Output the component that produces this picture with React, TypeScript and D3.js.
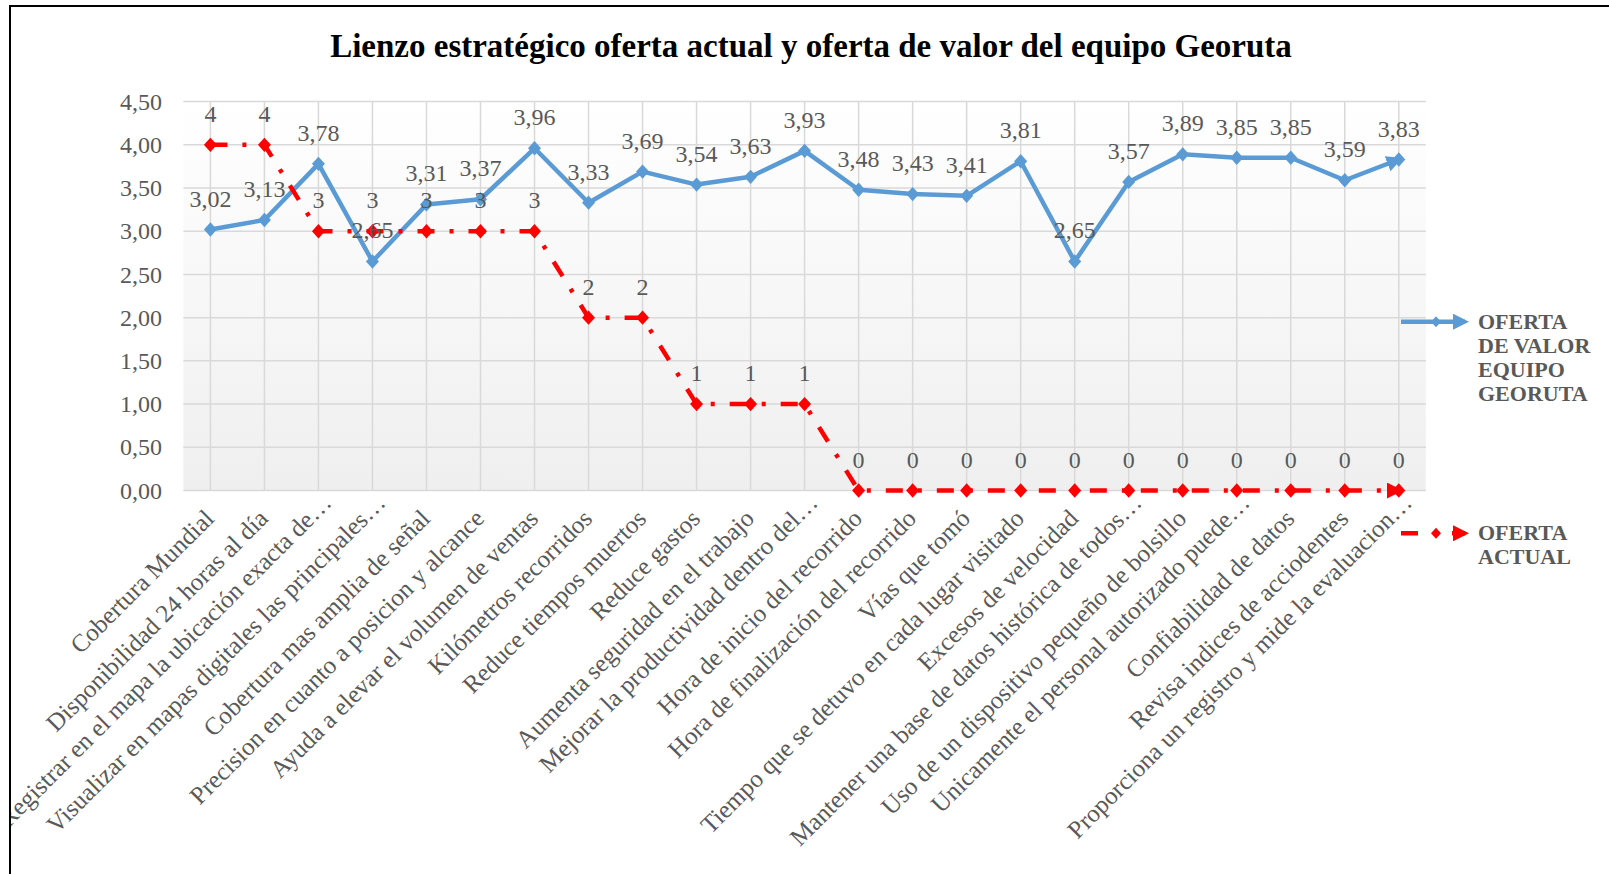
import React, { useEffect, useRef } from "react";
import { select, scaleBand, scaleLinear, line } from "d3";

const categories = [
  "Cobertura Mundial",
  "Disponibilidad 24 horas al día",
  "Registrar en el mapa la ubicación exacta de…",
  "Visualizar en mapas digitales las principales…",
  "Cobertura mas amplia de señal",
  "Precision en cuanto a posicion y alcance",
  "Ayuda a elevar el volumen de ventas",
  "Kilómetros recorridos",
  "Reduce tiempos muertos",
  "Reduce gastos",
  "Aumenta seguridad en el trabajo",
  "Mejorar la productividad dentro del…",
  "Hora de inicio del recorrido",
  "Hora de finalización del recorrido",
  "Vías que tomó",
  "Tiempo que se detuvo en cada lugar visitado",
  "Excesos de velocidad",
  "Mantener una base de datos histórica de todos…",
  "Uso de un dispositivo pequeño de bolsillo",
  "Unicamente el personal autorizado puede…",
  "Confiabilidad de datos",
  "Revisa indices de acciodentes",
  "Proporciona un registro y mide la evaluacion…",
];

const valorGeoruta = [
  3.02, 3.13, 3.78, 2.65, 3.31, 3.37, 3.96, 3.33, 3.69, 3.54, 3.63, 3.93,
  3.48, 3.43, 3.41, 3.81, 2.65, 3.57, 3.89, 3.85, 3.85, 3.59, 3.83,
];

const ofertaActual = [4, 4, 3, 3, 3, 3, 3, 2, 2, 1, 1, 1, 0, 0, 0, 0, 0, 0, 0, 0, 0, 0, 0];

const yTicks = [0, 0.5, 1, 1.5, 2, 2.5, 3, 3.5, 4, 4.5];

const legendValor = ["OFERTA", "DE VALOR", "EQUIPO", "GEORUTA"];
const legendActual = ["OFERTA", "ACTUAL"];

const title = "Lienzo estratégico oferta actual y oferta de valor del equipo Georuta";

const width = 1609;
const height = 874;
const blue = "#5B9BD5";
const red = "#FF0000";
const grey = "#595959";
const serif = "'Liberation Serif', 'Times New Roman', serif";
const redDash = "17 15 4 15";

const diamond = (r: number) => `M0,${-r * 1.1}L${r},0L0,${r * 1.1}L${-r},0Z`;
const comma = (v: number) => v.toFixed(2).replace(".", ",");

export default function App() {
  const ref = useRef<SVGSVGElement>(null);

  useEffect(() => {
    const svg = select(ref.current);
    svg.selectAll("*").remove();

    const x = scaleBand().domain(categories).range([183.4, 1425.8]);
    const cx = (i: number) => (x(categories[i]) as number) + x.bandwidth() / 2;
    const y = scaleLinear().domain([0, 4.5]).range([490.5, 101.6]);

    const defs = svg.append("defs");
    const grad = defs.append("linearGradient").attr("id", "plot-bg").attr("x1", 0).attr("x2", 0).attr("y1", 0).attr("y2", 1);
    grad.append("stop").attr("offset", "0%").attr("stop-color", "#ffffff");
    grad.append("stop").attr("offset", "100%").attr("stop-color", "#efefef");

    defs.append("clipPath").attr("id", "chart-clip")
      .append("rect").attr("x", 11).attr("y", 7).attr("width", 1700).attr("height", 1000);

    // arrow heads
    [["arrow-blue", blue], ["arrow-red", red]].forEach(([id, c]) => {
      defs.append("marker")
        .attr("id", id)
        .attr("markerUnits", "userSpaceOnUse")
        .attr("viewBox", "0 -8 16 16")
        .attr("markerWidth", 16)
        .attr("markerHeight", 16)
        .attr("refX", 12)
        .attr("refY", 0)
        .attr("orient", "auto")
        .append("path")
        .attr("d", "M0,-8L16,0L0,8Z")
        .attr("fill", c);
    });

    // outer chart border
    svg.append("rect")
      .attr("x", 10).attr("y", 6)
      .attr("width", 1700).attr("height", 1000)
      .attr("fill", "white")
      .attr("stroke", "black")
      .attr("stroke-width", 2);

    const chart = svg.append("g").attr("clip-path", "url(#chart-clip)");

    // title
    chart.append("text")
      .attr("x", 811).attr("y", 57)
      .attr("text-anchor", "middle")
      .style("font-family", serif)
      .style("font-size", "33px")
      .style("font-weight", "bold")
      .attr("fill", "black")
      .text(title);

    // plot area
    const [x0, x1] = x.range();
    chart.append("rect")
      .attr("x", x0).attr("y", y(4.5))
      .attr("width", x1 - x0).attr("height", y(0) - y(4.5))
      .attr("fill", "url(#plot-bg)");

    // grid
    chart.append("g").selectAll("line")
      .data(yTicks)
      .join("line")
      .attr("x1", x0).attr("x2", x1)
      .attr("y1", d => y(d)).attr("y2", d => y(d))
      .attr("stroke", "#d9d9d9")
      .attr("stroke-width", 1.5);
    chart.append("g").selectAll("line")
      .data(categories)
      .join("line")
      .attr("x1", (d, i) => cx(i)).attr("x2", (d, i) => cx(i))
      .attr("y1", y(4.5)).attr("y2", y(0))
      .attr("stroke", "#d9d9d9")
      .attr("stroke-width", 1.5);

    // y axis labels
    chart.append("g").selectAll("text")
      .data(yTicks)
      .join("text")
      .attr("x", 162)
      .attr("y", d => y(d))
      .attr("dy", "0.34em")
      .attr("text-anchor", "end")
      .style("font-family", serif)
      .style("font-size", "24px")
      .attr("fill", grey)
      .text(d => comma(d));

    // x axis labels (truncated ones sit a little further out, as in Excel)
    chart.append("g").selectAll("text")
      .data(categories)
      .join("text")
      .attr("transform", (d, i) => `translate(${cx(i) - 1},${514}) rotate(-45)`)
      .attr("dx", d => (d.endsWith("…") ? 18 : 0))
      .attr("dy", d => (d.endsWith("…") ? 4 : 8.5))
      .attr("text-anchor", "end")
      .style("font-family", serif)
      .style("font-size", "25px")
      .attr("fill", grey)
      .text(d => d);

    const lineGen = line<number>().x((d, i) => cx(i)).y(d => y(d));

    // blue series
    chart.append("path")
      .datum(valorGeoruta)
      .attr("d", lineGen)
      .attr("fill", "none")
      .attr("stroke", blue)
      .attr("stroke-width", 4.5)
      .attr("stroke-linejoin", "round")
      .attr("marker-end", "url(#arrow-blue)");
    chart.append("g").selectAll("path")
      .data(valorGeoruta)
      .join("path")
      .attr("transform", (d, i) => `translate(${cx(i)},${y(d)})`)
      .attr("d", diamond(6.5))
      .attr("fill", blue);

    // red series
    chart.append("path")
      .datum(ofertaActual)
      .attr("d", lineGen)
      .attr("fill", "none")
      .attr("stroke", red)
      .attr("stroke-width", 4.5)
      .attr("stroke-dasharray", redDash)
      .attr("marker-end", "url(#arrow-red)");
    chart.append("g").selectAll("path")
      .data(ofertaActual)
      .join("path")
      .attr("transform", (d, i) => `translate(${cx(i)},${y(d)})`)
      .attr("d", diamond(6.5))
      .attr("fill", red);

    // data labels
    chart.append("g").selectAll("text")
      .data(valorGeoruta)
      .join("text")
      .attr("x", (d, i) => cx(i))
      .attr("y", d => y(d) - 23)
      .attr("text-anchor", "middle")
      .style("font-family", serif)
      .style("font-size", "24px")
      .attr("fill", grey)
      .text(d => comma(d));
    chart.append("g").selectAll("text")
      .data(ofertaActual)
      .join("text")
      .attr("x", (d, i) => cx(i))
      .attr("y", d => y(d) - 23)
      .attr("text-anchor", "middle")
      .style("font-family", serif)
      .style("font-size", "24px")
      .attr("fill", grey)
      .text(d => String(d));

    // legend
    const legend = (ly: number, lines: string[], c: string, dash: string | null, arrow: string) => {
      const g = chart.append("g");
      g.append("line")
        .attr("x1", 1401).attr("x2", 1465)
        .attr("y1", ly).attr("y2", ly)
        .attr("stroke", c)
        .attr("stroke-width", 4.5)
        .attr("stroke-dasharray", dash)
        .attr("marker-end", `url(#${arrow})`);
      g.append("path")
        .attr("transform", `translate(1436,${ly})`)
        .attr("d", diamond(5))
        .attr("fill", c);
      g.selectAll("text")
        .data(lines)
        .join("text")
        .attr("x", 1478)
        .attr("y", (d, i) => ly + 7 + i * 24)
        .style("font-family", serif)
        .style("font-size", "22px")
        .style("font-weight", "bold")
        .attr("fill", grey)
        .text(d => d);
    };
    legend(321.7, legendValor, blue, null, "arrow-blue");
    legend(533.3, legendActual, red, redDash, "arrow-red");
  }, []);

  return (
    <div style={{ position: "absolute", left: 0, top: 0 }}>
      <svg ref={ref} width={width} height={height} style={{ display: "block" }} />
    </div>
  );
}
